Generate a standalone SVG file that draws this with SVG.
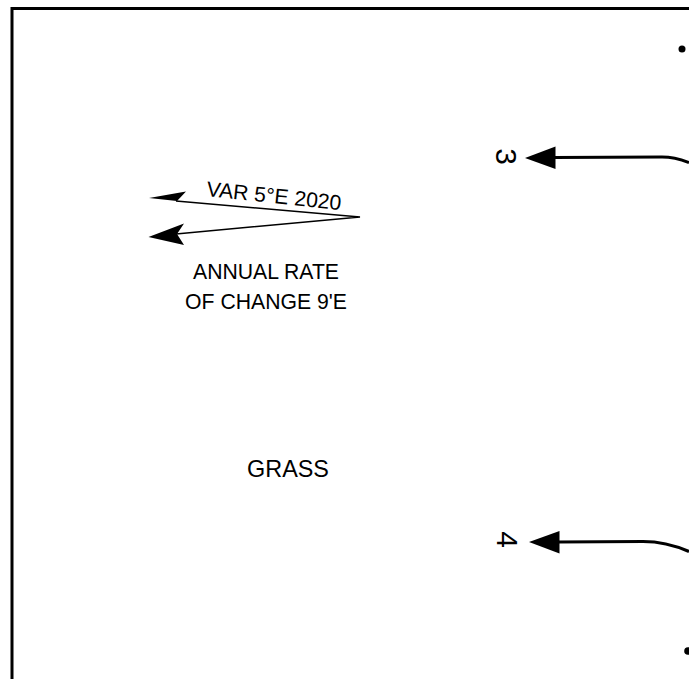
<svg xmlns="http://www.w3.org/2000/svg" width="689" height="679" viewBox="0 0 689 679">
<style>
.t{font-family:"Liberation Sans",Arial,sans-serif;font-size:21.200px;fill:#000}
.n{font-family:"Liberation Sans",Arial,sans-serif;font-size:30px;fill:#000}
.l{fill:none;stroke:#000}
.h{fill:#000;stroke:none}
.d{fill:#000}
</style>
<rect width="689" height="679" fill="#fff"/>
<g id="border"><path class="l" stroke-width="3" d="M12 679V8.500H689"/></g>
<g id="connectors">
<path class="l" stroke-width="3" d="M554 157.500L662 157C672 157 681 159.500 689 162.500"/>
<polygon class="h" points="525,158 555.500,146.500 555.500,169"/>
<path class="l" stroke-width="3" d="M558 542L643 541.500C658 541.500 674 545 689 551.500"/>
<polygon class="h" points="529,542 559.500,531 559.500,553.500"/>
<path class="l" stroke-width="1.500" d="M176 201L360 217L176 234"/>
<polygon class="h" points="149,198 186,191.500 177,201"/>
<polygon class="h" points="148.500,237 184,223.500 177,234 184,245"/>
</g>
<g id="dot-top"><circle class="d" cx="682" cy="49" r="3.500"/></g>
<g id="dot-bottom"><circle class="d" cx="688" cy="651" r="3.800"/></g>
<g id="label-3"><text class="n" transform="translate(496 156.500) rotate(90)" text-anchor="middle">3</text></g>
<g id="label-4"><text class="n" transform="translate(497 539.500) rotate(90)" text-anchor="middle">4</text></g>
<g id="var"><text class="t" transform="translate(206 196) rotate(6)">VAR 5°E 2020</text></g>
<g id="rate"><text class="t" x="266" y="279" text-anchor="middle">ANNUAL RATE</text><text class="t" x="266" y="309" text-anchor="middle">OF CHANGE 9'E</text></g>
<g id="grass"><text class="t" x="288" y="476.500" text-anchor="middle" style="font-size:23.400px">GRASS</text></g>
</svg>
